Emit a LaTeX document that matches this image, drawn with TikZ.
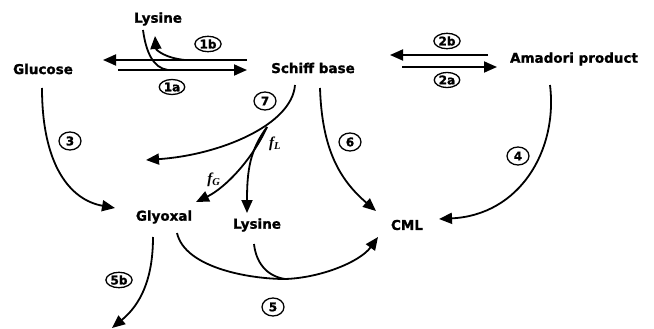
\documentclass[tikz,border=0pt]{standalone}
\usepackage{fontspec}
\setmainfont{DejaVu Sans}[BoldFeatures={FakeBold=1.3}]
\newfontfamily\fracfont{Liberation Serif}
\usetikzlibrary{arrows.meta,shapes.geometric}
\begin{document}
\begin{tikzpicture}[x=1pt,y=-1pt,
  chem/.style={font=\bfseries\fontsize{13.5}{15}\selectfont, inner sep=0pt},
  tag/.style={draw, ellipse, line width=1.3pt, inner sep=0.8pt, minimum height=15pt,
              font=\bfseries\fontsize{12}{12}\selectfont},
  num/.style={tag, minimum width=22pt, minimum height=18pt, inner sep=0pt},
  rx/.style={line width=1.8pt, -{Triangle[length=13pt,width=11pt]}},
  plain/.style={line width=1.8pt},
  flab/.style={font=\fracfont\bfseries\itshape\fontsize{15}{15}\selectfont, inner sep=0pt}]
\useasboundingbox (0,0) rectangle (654,329);

% compounds
\node[chem] (glu)  at (43,69)  {Glucose};
\node[chem] (sb)   at (313,68) {Schiff base};
\node[chem] (ama)  at (574,59) {Amadori product};
\node[chem] (lys1) at (158,19) {Lysine};
\node[chem] (gly)  at (164,217) {Glyoxal};
\node[chem] (lys2) at (257,225) {Lysine};
\node[chem] (cml)  at (407,225) {CML};

% end points of the reaction arrows
\coordinate (r1s) at (247,60);  \coordinate (r1e) at (103,60);
\coordinate (f1s) at (118,70);  \coordinate (f1e) at (247,70);
\coordinate (r2s) at (488,55);  \coordinate (r2e) at (390,55);
\coordinate (f2s) at (402,67);  \coordinate (f2e) at (497,67);
\coordinate (lysout) at (155,36);
\coordinate (lysin)  at (143,30);
\coordinate (j1b) at (185,60);
\coordinate (j1a) at (168,70);
\coordinate (j7) at (267,127);
\coordinate (j5) at (285,279);
\coordinate (off7) at (146,160);
\coordinate (off5b) at (112,328);

% Glucose <-> Schiff base
\draw[rx] (r1s) -- (r1e);
\draw[rx] (f1s) -- (f1e);
\draw[rx] (j1b) .. controls (165,58) and (156,50) .. (lysout);
\draw[plain] (lysin) .. controls (146,52) and (153,68) .. (j1a);

% Schiff base <-> Amadori product
\draw[rx] (r2s) -- (r2e);
\draw[rx] (f2s) -- (f2e);

% Glucose -> Glyoxal
\draw[rx] (42,88) .. controls (42,165) and (70,200) .. (115,208);

% Schiff base fragmentation (7)
\draw[rx] (295,85) .. controls (292,125) and (220,155) .. (off7);
\draw[rx] (j7) .. controls (252,160) and (225,188) .. (196,202);
\draw[rx] (j7) .. controls (250,150) and (247,170) .. (247,213);

% Schiff base -> CML (6)
\draw[rx] (320,88) .. controls (322,150) and (340,180) .. (376,211);

% Amadori product -> CML (4)
\draw[rx] (550,85) .. controls (558,150) and (520,215) .. (439,219);

% Glyoxal + Lysine -> CML (5)
\draw[plain] (177,233) .. controls (185,268) and (250,279) .. (j5);
\draw[rx] (j5) .. controls (320,278) and (360,262) .. (378,237);
\draw[plain] (254,244) .. controls (256,262) and (266,276) .. (j5);

% Glyoxal -> (5b)
\draw[rx] (153,237) .. controls (153,280) and (140,305) .. (off5b);

% pathway numbers
\node[tag] (t1b) at (208,44) {1b};
\node[tag] (t1a) at (172,87) {1a};
\node[tag] (t2b) at (447,41) {2b};
\node[tag] (t2a) at (447,80) {2a};
\node[num] (t3) at (70,141) {3};
\node[num] (t7) at (265,101) {7};
\node[num] (t6) at (350,142) {6};
\node[num] (t4) at (518,156) {4};
\node[num] (t5) at (273,307) {5};
\node[tag] (t5b) at (119,280) {5b};

% branching fractions
\node[flab] (fl) at (275,144) {f\textsubscript{L}};
\node[flab] (fg) at (214,180) {f\textsubscript{G}};
\end{tikzpicture}
\end{document}
